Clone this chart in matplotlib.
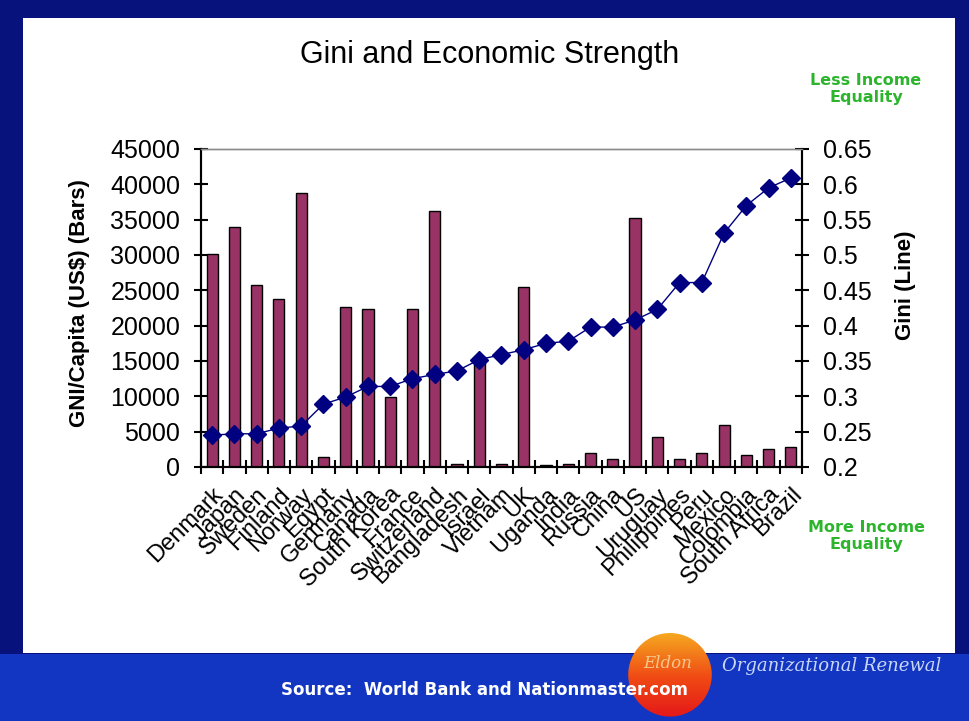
import matplotlib.pyplot as plt
import numpy as np
from matplotlib.patches import Rectangle, Circle
from matplotlib.colors import LinearSegmentedColormap
from matplotlib.ticker import MultipleLocator, FuncFormatter

countries = ['Denmark', 'Japan', 'Sweden', 'Finland', 'Norway', 'Egypt', 'Germany', 'Canada',
             'South Korea', 'France', 'Switzerland', 'Bangladesh', 'Israel', 'Vietnam', 'UK',
             'Uganda', 'India', 'Russia', 'China', 'US', 'Uruguay', 'Philippines', 'Peru',
             'Mexico', 'Colombia', 'South Africa', 'Brazil']
# GNI per capita (US$), bars on the left axis
gni = [30200, 34000, 25700, 23800, 38800, 1450, 22700, 22400, 9900, 22400, 36250, 380,
       15500, 430, 25500, 250, 460, 2000, 1100, 35300, 4200, 1080, 2000, 5950, 1700, 2500, 2870]
# Gini coefficient, line on the right axis
gini = [0.245, 0.247, 0.247, 0.255, 0.258, 0.289, 0.299, 0.314, 0.314, 0.325, 0.331, 0.336,
        0.352, 0.359, 0.366, 0.375, 0.378, 0.398, 0.398, 0.408, 0.423, 0.461, 0.461, 0.531,
        0.570, 0.595, 0.609]

W, H = 969, 721
plt.rcParams['font.family'] = ['Liberation Sans', 'DejaVu Sans']

fig = plt.figure(figsize=(W / 100, H / 100), dpi=100)
fig.patch.set_facecolor('#08127c')

# frame: white panel and lighter blue band at the bottom
fig.patches.append(Rectangle((0, 0), 1, 1 - 654 / H, transform=fig.transFigure,
                             facecolor='#1236c2', edgecolor='none', zorder=-10))
fig.patches.append(Rectangle((23 / W, 1 - 653 / H), (955 - 23) / W, (653 - 18) / H,
                             transform=fig.transFigure, facecolor='white', edgecolor='none', zorder=-10))

ax = fig.add_axes([201 / W, 1 - 467 / H, (802 - 201) / W, (467 - 149) / H])
ax.set_facecolor('none')
x = np.arange(len(countries))
ax.bar(x, gni, width=0.5, color='#993366', edgecolor='black', linewidth=1, zorder=2)
ax.set_xlim(-0.5, len(countries) - 0.5)
ax.set_ylim(0, 45000)
ax.yaxis.set_major_locator(MultipleLocator(5000))

ax2 = ax.twinx()
ax2.plot(x, gini, color='#000080', linewidth=1, marker='D', markersize=9, zorder=3)
ax2.set_ylim(0.2, 0.65)
ax2.yaxis.set_major_locator(MultipleLocator(0.05))
ax2.yaxis.set_major_formatter(FuncFormatter(lambda v, p: '%g' % round(v, 2)))

for a in (ax, ax2):
    for s in ('left', 'right', 'bottom'):
        a.spines[s].set_color('black')
        a.spines[s].set_linewidth(1.5)
    a.spines['top'].set_color('#8c8c8c')
    a.spines['top'].set_linewidth(1)

ax.tick_params(axis='y', direction='inout', length=10, width=1.5, pad=10, labelsize=18)
ax2.tick_params(axis='y', direction='inout', length=10, width=1.5, pad=10, labelsize=18)

# category labels at centers, tick marks at boundaries
ax.set_xticks(x)
ax.set_xticklabels(countries, rotation=45, ha='right', rotation_mode='anchor', fontsize=17)
ax.set_xticks(np.arange(-0.5, len(countries)), minor=True)
ax.tick_params(axis='x', which='major', length=0, pad=12)
ax.tick_params(axis='x', which='minor', direction='inout', length=10, width=1.5)

fig.text(490 / W, 1 - 55 / H, 'Gini and Economic Strength', fontsize=22, ha='center', va='center')
fig.text(80 / W, 1 - 303 / H, 'GNI/Capita (US$) (Bars)', fontsize=16, fontweight='bold',
         rotation=90, ha='center', va='center')
fig.text(905 / W, 1 - 285 / H, 'Gini (Line)', fontsize=16, fontweight='bold',
         rotation=90, ha='center', va='center')

fig.text(866 / W, 1 - 89 / H, 'Less Income\nEquality', fontsize=11.5, fontweight='bold',
         color='#2cb52c', ha='center', va='center', family='DejaVu Sans', linespacing=1.1)
fig.text(866 / W, 1 - 536 / H, 'More Income\nEquality', fontsize=11.5, fontweight='bold',
         color='#2cb52c', ha='center', va='center', family='DejaVu Sans', linespacing=1.1)

# logo
lax = fig.add_axes([626 / W, 1 - 721 / H, 88 / W, 88 / H])
lax.set_xlim(-1, 1)
lax.set_ylim(-1, 1)
lax.axis('off')
sun = LinearSegmentedColormap.from_list('sun', ['#e3141a', '#f04a14', '#f6a820'])
grad = np.linspace(0, 1, 100).reshape(-1, 1)
im = lax.imshow(grad, extent=(-1, 1, -1, 1), cmap=sun, aspect='auto', origin='lower')
im.set_clip_path(Circle((0, 0.05), 0.95, transform=lax.transData))
fig.text(668 / W, 1 - 663 / H, 'Eldon', fontsize=12, style='italic', family='DejaVu Serif',
         color='#f7d9a0', ha='center', va='center', alpha=0.85)
fig.text(832 / W, 1 - 666 / H, 'Organizational Renewal', fontsize=13, style='italic',
         family='DejaVu Serif', color='#c9d6f5', ha='center', va='center')

fig.text(485 / W, 1 - 690 / H, 'Source:  World Bank and Nationmaster.com', fontsize=12,
         fontweight='bold', color='white', ha='center', va='center', family='DejaVu Sans', zorder=5)

fig.savefig('out.png', dpi=100, facecolor=fig.get_facecolor())
